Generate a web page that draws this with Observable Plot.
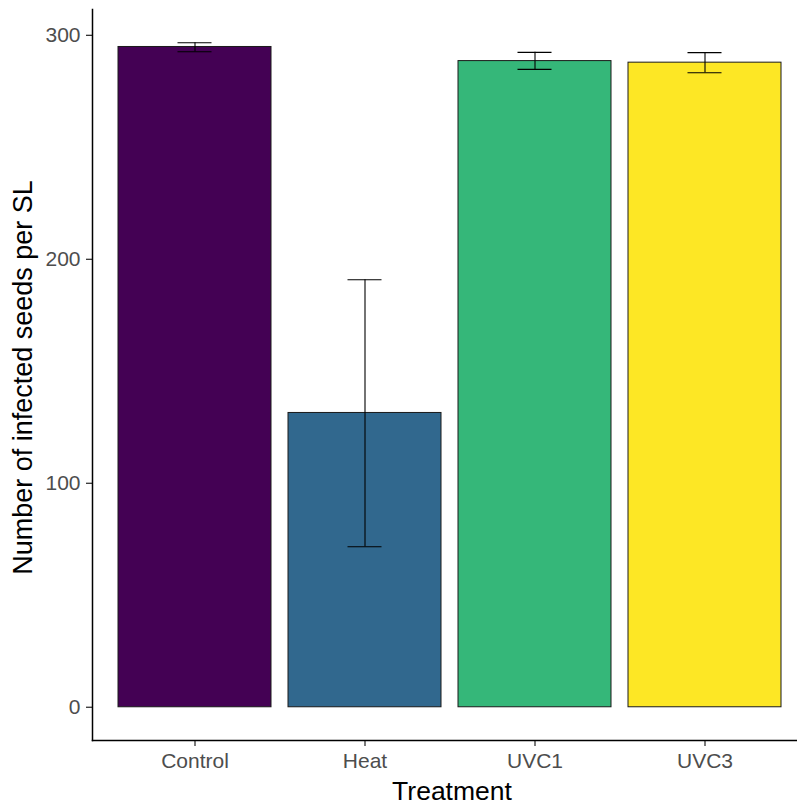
<!DOCTYPE html>
<html>
<head>
<meta charset="utf-8">
<script src="https://cdn.jsdelivr.net/npm/d3@7"></script>
<script src="https://cdn.jsdelivr.net/npm/@observablehq/plot@0.6"></script>
<style>
  html, body { margin: 0; padding: 0; background: #fff; }
  #chart svg { display: block; }
</style>
</head>
<body>
<div id="chart"></div>
<script>
const treatments = ["Control", "Heat", "UVC1", "UVC3"];
const means = [294.8, 131.4, 288.5, 287.8];
const lower = [292.7, 71.7, 284.8, 283.3];
const upper = [296.7, 190.9, 292.4, 292.3];
const barColors = ["#440154", "#31688E", "#35B779", "#FDE725"];
const yTicks = [0, 100, 200, 300];
const xTitle = "Treatment";
const yTitle = "Number of infected seeds per SL";

const rows = treatments.map((t, i) => ({treatment: t, mean: means[i], lo: lower[i], hi: upper[i]}));

const yMax = d3.max(upper);
const yMin = 0;
const pad = 0.05 * (yMax - yMin);

const chart = Plot.plot({
  width: 797,
  height: 805,
  marginLeft: 92,
  marginRight: 0,
  marginTop: 9,
  marginBottom: 65,
  style: {fontFamily: "'Liberation Sans', Arial, sans-serif", background: "#fff"},
  x: {type: "band", domain: treatments, range: [92, 806], paddingInner: 0.1, paddingOuter: 0.15, axis: null},
  y: {domain: [yMin - pad, yMax + pad], axis: null},
  color: {domain: treatments, range: barColors},
  marks: [
    Plot.barY(rows, {x: "treatment", y1: 0, y2: "mean", fill: "treatment", stroke: "#1a1a1a", strokeWidth: 1}),
    Plot.ruleX(rows, {x: "treatment", y1: "lo", y2: "hi", stroke: "#000", strokeWidth: 1.1}),
    Plot.tickY(rows, {x: "treatment", y: "lo", stroke: "#000", strokeWidth: 1.1, insetLeft: 59.5, insetRight: 59.5}),
    Plot.tickY(rows, {x: "treatment", y: "hi", stroke: "#000", strokeWidth: 1.1, insetLeft: 59.5, insetRight: 59.5}),
    Plot.axisY({ticks: yTicks, tickSize: 6, tickPadding: 6, fontSize: 21, color: "#4D4D4D", stroke: "#333", strokeWidth: 1.3, label: null}),
    Plot.axisX({tickSize: 6, tickPadding: 6.7, fontSize: 21, color: "#4D4D4D", stroke: "#333", strokeWidth: 1.3, label: null}),
    Plot.frame({anchor: "left", stroke: "#000", strokeWidth: 1.5}),
    Plot.frame({anchor: "bottom", stroke: "#000", strokeWidth: 1.5}),
    Plot.text([xTitle], {frameAnchor: "bottom", textAnchor: "middle", lineAnchor: "middle", dx: 7, dy: 51, fontSize: 26.5, fill: "#000"}),
    Plot.text([yTitle], {frameAnchor: "left", textAnchor: "middle", lineAnchor: "middle", rotate: -90, dx: -69.5, dy: 2.5, fontSize: 27, fill: "#000"})
  ]
});
document.getElementById("chart").appendChild(chart);
</script>
</body>
</html>
